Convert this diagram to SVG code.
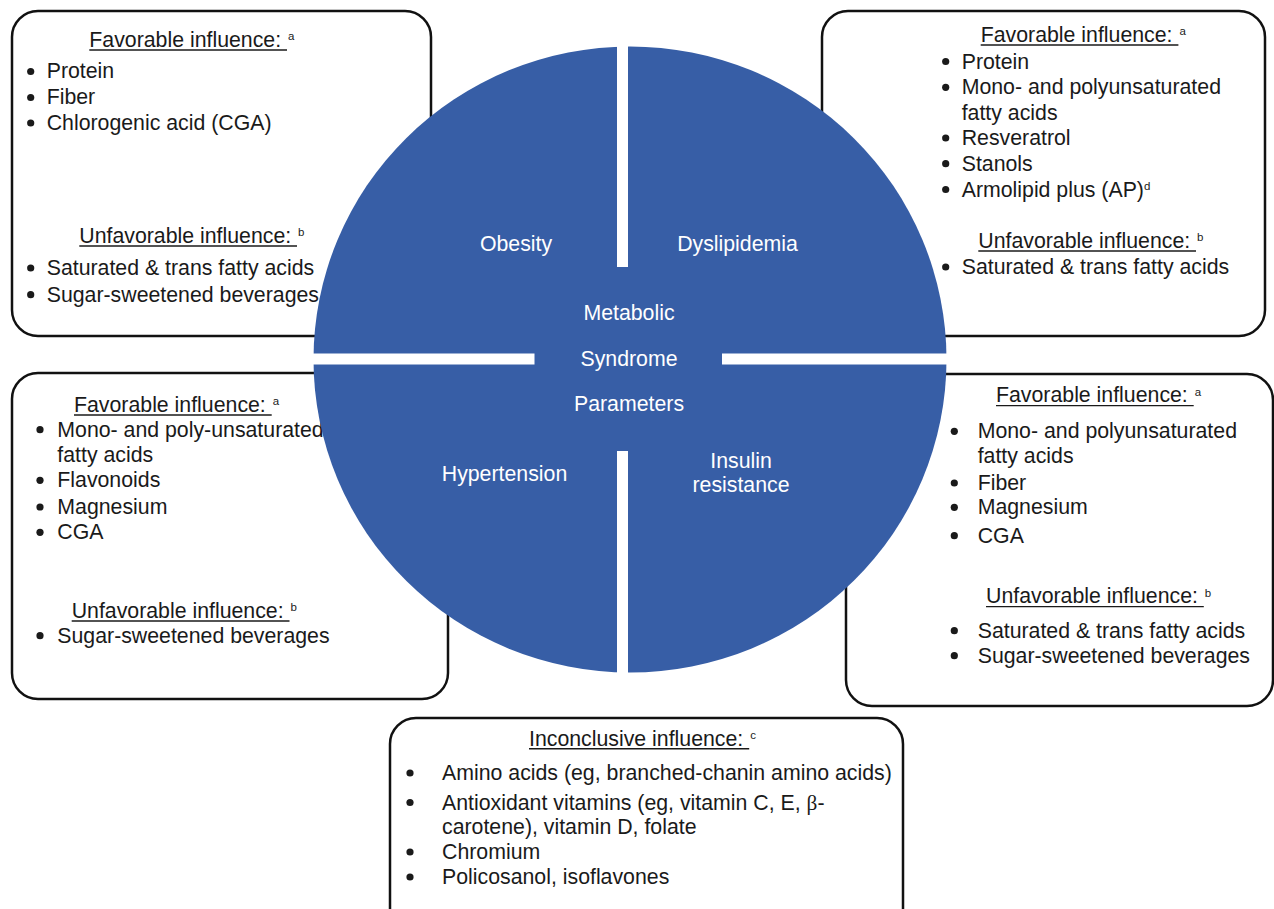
<svg xmlns="http://www.w3.org/2000/svg" width="1274" height="909" viewBox="0 0 1274 909">
<style>
.box{fill:#fff;stroke:#111;stroke-width:2.5}
.t{font-family:"Liberation Sans",Arial,sans-serif;font-size:21.3px;fill:#1a1a1a}
.sup{font-family:"Liberation Sans",Arial,sans-serif;font-size:11.5px;fill:#1a1a1a}
.ul{stroke:#1a1a1a;stroke-width:1.4}
.dot{fill:#1a1a1a}
.c{font-family:"Liberation Sans",Arial,sans-serif;font-size:21.3px;fill:#fff;text-anchor:middle}
.gap{fill:#fff}
</style>
<rect width="1274" height="909" fill="#fff"/>

<g id="box-obesity">
<rect class="box" x="12" y="11" width="419" height="325" rx="26"/>
<text class="t" x="89.3" y="46.7">Favorable influence:</text>
<line class="ul" x1="89.3" y1="50" x2="287" y2="50"/>
<text class="sup" x="288" y="40">a</text>
<circle class="dot" cx="30.7" cy="71.5" r="3.6"/><text class="t" x="46.7" y="78.3">Protein</text>
<circle class="dot" cx="30.7" cy="97.5" r="3.6"/><text class="t" x="46.7" y="104.3">Fiber</text>
<circle class="dot" cx="30.7" cy="123" r="3.6"/><text class="t" x="46.7" y="130">Chlorogenic acid (CGA)</text>
<text class="t" x="79.3" y="242.7">Unfavorable influence:</text>
<line class="ul" x1="79.3" y1="246" x2="297" y2="246"/>
<text class="sup" x="298" y="236">b</text>
<circle class="dot" cx="30.7" cy="268" r="3.6"/><text class="t" x="46.7" y="275">Saturated &amp; trans fatty acids</text>
<circle class="dot" cx="30.7" cy="294.7" r="3.6"/><text class="t" x="46.7" y="301.7">Sugar-sweetened beverages</text>
</g>

<g id="box-dyslipidemia">
<rect class="box" x="822" y="11" width="443" height="325" rx="26"/>
<text class="t" x="980.7" y="41.7">Favorable influence:</text>
<line class="ul" x1="980.7" y1="45" x2="1178.4" y2="45"/>
<text class="sup" x="1179.5" y="35">a</text>
<circle class="dot" cx="945.7" cy="61.5" r="3.6"/><text class="t" x="961.7" y="68.5">Protein</text>
<circle class="dot" cx="945.7" cy="87.3" r="3.6"/><text class="t" x="961.7" y="94.3">Mono- and polyunsaturated</text>
<text class="t" x="961.7" y="119.5">fatty acids</text>
<circle class="dot" cx="945.7" cy="138" r="3.6"/><text class="t" x="961.7" y="145">Resveratrol</text>
<circle class="dot" cx="945.7" cy="163.7" r="3.6"/><text class="t" x="961.7" y="170.7">Stanols</text>
<circle class="dot" cx="945.7" cy="189.5" r="3.6"/><text class="t" x="961.7" y="196.5">Armolipid plus (AP)<tspan class="sup" dy="-6.5">d</tspan></text>
<text class="t" x="978.3" y="247.7">Unfavorable influence:</text>
<line class="ul" x1="978.3" y1="251" x2="1196" y2="251"/>
<text class="sup" x="1197" y="241">b</text>
<circle class="dot" cx="945.7" cy="267" r="3.6"/><text class="t" x="961.7" y="274">Saturated &amp; trans fatty acids</text>
</g>

<g id="box-hypertension">
<rect class="box" x="12" y="373" width="436" height="326" rx="26"/>
<text class="t" x="74" y="411.7">Favorable influence:</text>
<line class="ul" x1="74" y1="415" x2="271.7" y2="415"/>
<text class="sup" x="272.7" y="405">a</text>
<circle class="dot" cx="40" cy="429.7" r="3.6"/><text class="t" x="57.3" y="436.7">Mono- and poly-unsaturated</text>
<text class="t" x="57.3" y="462.3">fatty acids</text>
<circle class="dot" cx="40" cy="480.3" r="3.6"/><text class="t" x="57.3" y="487.3">Flavonoids</text>
<circle class="dot" cx="40" cy="507" r="3.6"/><text class="t" x="57.3" y="514">Magnesium</text>
<circle class="dot" cx="40" cy="532.3" r="3.6"/><text class="t" x="57.3" y="539.3">CGA</text>
<text class="t" x="71.7" y="617.7">Unfavorable influence:</text>
<line class="ul" x1="71.7" y1="621" x2="289.5" y2="621"/>
<text class="sup" x="290.5" y="611">b</text>
<circle class="dot" cx="40" cy="635.7" r="3.6"/><text class="t" x="57.3" y="642.7">Sugar-sweetened beverages</text>
</g>

<g id="box-insulin">
<rect class="box" x="846" y="374" width="427" height="332" rx="26"/>
<text class="t" x="996" y="402.3">Favorable influence:</text>
<line class="ul" x1="996" y1="405.6" x2="1193.7" y2="405.6"/>
<text class="sup" x="1194.7" y="395.6">a</text>
<circle class="dot" cx="954.3" cy="431.3" r="3.6"/><text class="t" x="977.7" y="438.3">Mono- and polyunsaturated</text>
<text class="t" x="977.7" y="463.3">fatty acids</text>
<circle class="dot" cx="954.3" cy="483" r="3.6"/><text class="t" x="977.7" y="490">Fiber</text>
<circle class="dot" cx="954.3" cy="507.3" r="3.6"/><text class="t" x="977.7" y="514.3">Magnesium</text>
<circle class="dot" cx="954.3" cy="535.7" r="3.6"/><text class="t" x="977.7" y="542.7">CGA</text>
<text class="t" x="986" y="603.3">Unfavorable influence:</text>
<line class="ul" x1="986" y1="606.6" x2="1203.8" y2="606.6"/>
<text class="sup" x="1204.8" y="596.6">b</text>
<circle class="dot" cx="954.3" cy="630.7" r="3.6"/><text class="t" x="977.7" y="637.7">Saturated &amp; trans fatty acids</text>
<circle class="dot" cx="954.3" cy="655.7" r="3.6"/><text class="t" x="977.7" y="662.7">Sugar-sweetened beverages</text>
</g>

<g id="box-inconclusive">
<rect class="box" x="390" y="718" width="513" height="220" rx="26"/>
<text class="t" x="529" y="745.5">Inconclusive influence:</text>
<line class="ul" x1="529" y1="748.8" x2="749.2" y2="748.8"/>
<text class="sup" x="750.2" y="738.8">c</text>
<circle class="dot" cx="410" cy="773" r="3.6"/><text class="t" x="442" y="780">Amino acids (eg, branched-chanin amino acids)</text>
<circle class="dot" cx="410" cy="802.5" r="3.6"/><text class="t" x="442" y="809.5">Antioxidant vitamins (eg, vitamin C, E, <tspan font-family="Liberation Serif, serif">β</tspan>-</text>
<text class="t" x="442" y="834">carotene), vitamin D, folate</text>
<circle class="dot" cx="410" cy="852" r="3.6"/><text class="t" x="442" y="859">Chromium</text>
<circle class="dot" cx="410" cy="877" r="3.6"/><text class="t" x="442" y="884">Policosanol, isoflavones</text>
</g>

<g id="metabolic-syndrome-circle">
<ellipse cx="630" cy="359.5" rx="316.5" ry="313" fill="#375ea6"/>
<rect class="gap" x="617" y="40" width="11" height="227"/>
<rect class="gap" x="617" y="451" width="11" height="230"/>
<rect class="gap" x="305" y="353.5" width="229.5" height="11"/>
<rect class="gap" x="722" y="353.5" width="233" height="11"/>
<text class="c" x="516" y="251">Obesity</text>
<text class="c" x="737.5" y="251">Dyslipidemia</text>
<text class="c" x="629" y="320">Metabolic</text>
<text class="c" x="629" y="366">Syndrome</text>
<text class="c" x="629" y="411">Parameters</text>
<text class="c" x="504.5" y="481">Hypertension</text>
<text class="c" x="741" y="468">Insulin</text>
<text class="c" x="741" y="492">resistance</text>
</g>
</svg>
